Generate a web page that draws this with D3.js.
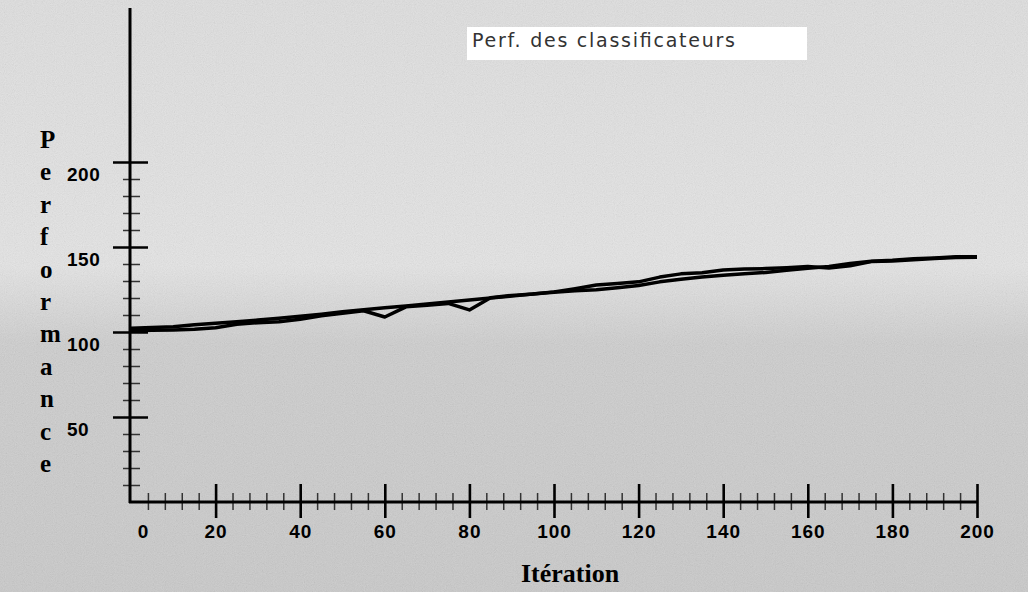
<!DOCTYPE html>
<html>
<head>
<meta charset="utf-8">
<script src="https://cdn.jsdelivr.net/npm/d3@7"></script>
<style>
  html, body { margin: 0; padding: 0; background: #d6d6d6; }
  svg { display: block; }
</style>
</head>
<body>
<div class="svg__chart"></div>
<script>
// values
var iterations = [0, 5, 10, 15, 20, 25, 30, 35, 40, 45, 50, 55, 60, 65, 70, 75, 80, 85, 90, 95,
    100, 105, 110, 115, 120, 125, 130, 135, 140, 145, 150, 155, 160, 165, 170, 175, 180, 185, 190, 195, 200];

var perfA = [102.2, 102.6, 103.1, 104.2, 105.1, 106.0, 107.0, 108.1, 109.2, 110.5, 111.9, 113.1, 114.2, 115.3, 116.5, 117.6, 118.8, 120.0, 121.1, 122.3,
    123.4, 124.2, 124.9, 126.0, 127.3, 129.5, 131.0, 132.3, 133.4, 134.2, 135.0, 136.3, 137.5, 138.5, 140.3, 141.6, 142.2, 143.1, 143.6, 144.2, 144.3];

var perfB = [100.8, 101.0, 101.2, 101.6, 102.5, 104.5, 105.5, 106.0, 107.5, 109.5, 111.0, 112.5, 108.8, 114.8, 115.8, 116.8, 113.0, 120.2, 121.5, 122.3,
    123.6, 125.5, 127.6, 128.5, 129.5, 132.3, 134.2, 134.8, 136.5, 137.0, 137.3, 137.8, 138.5, 137.6, 139.0, 141.4, 141.8, 142.5, 143.3, 143.8, 143.9];

var xTicks = [0, 20, 40, 60, 80, 100, 120, 140, 160, 180, 200];
var yTicks = [50, 100, 150, 200];

var chartTitle = "Perf. des classificateurs";
var xTitle = "Itération";
var yTitle = "Performance";

var width = 1028,
    height = 592;

var svg = d3.select("div.svg__chart").append("svg")
    .attr("width", width)
    .attr("height", height);

// scanned paper look
var defs = svg.append("defs");
var grad = defs.append("linearGradient")
    .attr("id", "paper")
    .attr("x1", 0).attr("y1", 0).attr("x2", 0).attr("y2", 1);
grad.append("stop").attr("offset", "0%").attr("stop-color", "#e2e2e2");
grad.append("stop").attr("offset", "45%").attr("stop-color", "#e8e8e8");
grad.append("stop").attr("offset", "58%").attr("stop-color", "#d0d0d0");
grad.append("stop").attr("offset", "100%").attr("stop-color", "#cbcbcb");

var grain = defs.append("filter")
    .attr("id", "grain")
    .attr("x", 0).attr("y", 0).attr("width", "100%").attr("height", "100%");
grain.append("feTurbulence")
    .attr("type", "fractalNoise")
    .attr("baseFrequency", 0.9)
    .attr("numOctaves", 2)
    .attr("seed", 7);
grain.append("feColorMatrix")
    .attr("type", "matrix")
    .attr("values", "0.33 0.33 0.33 0 0  0.33 0.33 0.33 0 0  0.33 0.33 0.33 0 0  0 0 0 0 1");

svg.append("rect")
    .attr("width", width).attr("height", height)
    .attr("fill", "url(#paper)");
svg.append("rect")
    .attr("width", width).attr("height", height)
    .attr("filter", "url(#grain)")
    .attr("opacity", 0.18);

var xScale = d3.scaleLinear().domain([0, 200]).range([131, 977]),
    yScale = d3.scaleLinear().domain([0, 290]).range([502, 9]);

// x major ticks cross the axis
svg.append("g")
    .attr("class", "x major")
    .attr("transform", "translate(0,484)")
    .call(d3.axisBottom(xScale).tickValues(xTicks.slice(1)).tickSize(34).tickFormat(""));

// x minor ticks, every 4
svg.append("g")
    .attr("class", "x minor")
    .attr("transform", "translate(0,493)")
    .call(d3.axisBottom(xScale).tickValues(d3.range(4, 200, 4).filter(function(d) { return d % 20 != 0; })).tickSize(17).tickFormat(""));

// y major ticks
svg.append("g")
    .attr("class", "y major")
    .attr("transform", "translate(113,0)")
    .call(d3.axisRight(yScale).tickValues(yTicks).tickSize(35).tickFormat(""));

// y minor ticks, every 10
svg.append("g")
    .attr("class", "y minor")
    .attr("transform", "translate(123,0)")
    .call(d3.axisRight(yScale).tickValues(d3.range(10, 200, 10).filter(function(d) { return d % 50 != 0; })).tickSize(17).tickFormat(""));

svg.selectAll(".major path, .minor path").remove();
svg.selectAll(".major line").attr("stroke", "#000").attr("stroke-width", 2.6);
svg.selectAll(".minor line").attr("stroke", "#333").attr("stroke-width", 1.5);

// tick labels
var xLabels = svg.append("g")
    .attr("class", "x labels")
    .attr("transform", "translate(0,502)")
    .call(d3.axisBottom(xScale).tickValues(xTicks).tickSize(0).tickPadding(23).tickFormat(d3.format("d")));

var yLabels = svg.append("g")
    .attr("class", "y labels")
    .attr("transform", "translate(67,0)")
    .call(d3.axisRight(yScale).tickValues(yTicks).tickSize(0).tickPadding(0).tickFormat(d3.format("d")));

svg.selectAll(".labels path").remove();
svg.selectAll(".labels text")
    .attr("fill", "#000")
    .style("font-family", "'Liberation Sans', Arial, sans-serif")
    .style("font-size", "19px")
    .style("font-weight", "bold");
xLabels.selectAll("text").style("letter-spacing", "1px");
xLabels.selectAll("text").filter(function(d) { return d == 0; }).attr("dx", 12);
yLabels.selectAll("text").attr("dy", null).attr("y", 18).style("letter-spacing", "0.5px");

// axis lines
svg.append("line")
    .attr("x1", 130).attr("x2", 130)
    .attr("y1", yScale.range()[1] - 1).attr("y2", 503)
    .attr("stroke", "#000").attr("stroke-width", 3);
svg.append("line")
    .attr("x1", 129).attr("x2", xScale(200) + 1)
    .attr("y1", 502).attr("y2", 502)
    .attr("stroke", "#000").attr("stroke-width", 3);

// the two performance curves
var line = d3.line()
    .x(function(d, i) { return xScale(iterations[i]); })
    .y(function(d) { return yScale(d); });

svg.append("path")
    .datum(perfA)
    .attr("d", line)
    .attr("fill", "none")
    .attr("stroke", "#000")
    .attr("stroke-width", 3.5)
    .attr("stroke-linejoin", "round");

svg.append("path")
    .datum(perfB)
    .attr("d", line)
    .attr("fill", "none")
    .attr("stroke", "#000")
    .attr("stroke-width", 3.5)
    .attr("stroke-linejoin", "round");

// axis titles
svg.append("text")
    .attr("x", 570)
    .attr("y", 582)
    .attr("text-anchor", "middle")
    .style("font-family", "'Liberation Serif', 'Times New Roman', serif")
    .style("font-size", "26px")
    .style("font-weight", "bold")
    .text(xTitle);

svg.append("g")
    .attr("class", "ytitle")
    .selectAll("text")
    .data(yTitle.split(""))
    .enter()
    .append("text")
    .attr("x", 40)
    .attr("y", function(d, i) { return 148 + i * 32.4; })
    .style("font-family", "'Liberation Serif', 'Times New Roman', serif")
    .style("font-size", "25px")
    .style("font-weight", "bold")
    .text(function(d) { return d; });

// title box
svg.append("rect")
    .attr("x", 467).attr("y", 27)
    .attr("width", 340).attr("height", 33)
    .attr("fill", "#fff");

svg.append("text")
    .attr("x", 472)
    .attr("y", 47)
    .attr("textLength", 263)
    .attr("lengthAdjust", "spacing")
    .attr("fill", "#333")
    .style("font-family", "'DejaVu Sans', sans-serif")
    .style("font-size", "19px")
    .text(chartTitle);
</script>
</body>
</html>
